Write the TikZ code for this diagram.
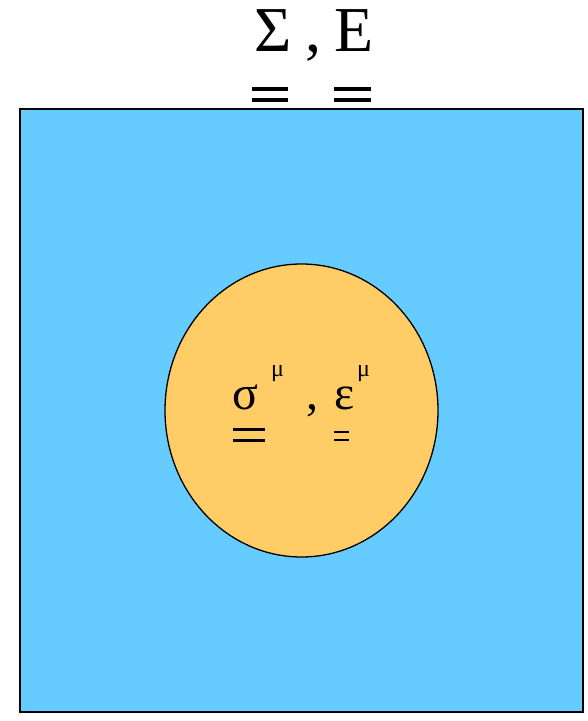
\documentclass[tikz,border=0pt]{standalone}
\usepackage{fontspec}
\setmainfont{Liberation Serif}
\usetikzlibrary{calc}
\definecolor{matBlue}{RGB}{102,204,255}
\definecolor{incOrange}{RGB}{255,204,102}
\tikzset{
    bigSym/.style={anchor=base, inner sep=0pt, text height=44pt, font=\fontsize{64}{68}\selectfont},
    midSym/.style={anchor=base, inner sep=0pt, font=\fontsize{48}{52}\selectfont},
    supSym/.style={anchor=base, inner sep=0pt, font=\fontsize{24}{26}\selectfont},
    barLine/.style={line width=3.5pt}
}

\begin{document}
\begin{tikzpicture}[x=1pt, y=1pt]
        \useasboundingbox (0,0) rectangle (587,721);

        % --- Macro for tensor double bars ---
        % #1 = line width, #2 = left x, #3 = right x, #4 = upper y, #5 = lower y
        \newcommand{\drawDoubleBar}[5]{
            \draw[barLine, line width=#1] (#2,#4) -- (#3,#4);
            \draw[barLine, line width=#1] (#2,#5) -- (#3,#5);
        }

        % Matrix (square) and inclusion (circle)
        \draw[line width=2pt, fill=matBlue] (20,9) rectangle (583,612);
        \draw[line width=1.3pt, fill=incOrange] (301.5,310.5) ellipse [x radius=136.5, y radius=146.5];

        % Macroscopic quantities
        \node[bigSym] (SigMac) at (273.5,669) {Σ};
        \node[bigSym] (CommaMac) at (313,669) {,};
        \node[bigSym] (EpsMac) at (354.5,669) {Ε};
        \drawDoubleBar{4pt}{252}{288}{631.5}{620.5}
        \drawDoubleBar{4pt}{334}{371}{631.5}{620.5}

        % Microscopic quantities
        \node[midSym] (SigMic) at (245.5,311) {σ};
        \node[supSym] (SigMu) at (277.5,344) {μ};
        \node[midSym] (CommaMic) at (312,311) {,};
        \node[midSym] (EpsMic) at (345,311) {ε};
        \node[supSym] (EpsMu) at (363.5,344) {μ};
        \drawDoubleBar{3pt}{233}{265}{291}{280}
        \drawDoubleBar{2.5pt}{334}{349}{289}{281}

\end{tikzpicture}
\end{document}
